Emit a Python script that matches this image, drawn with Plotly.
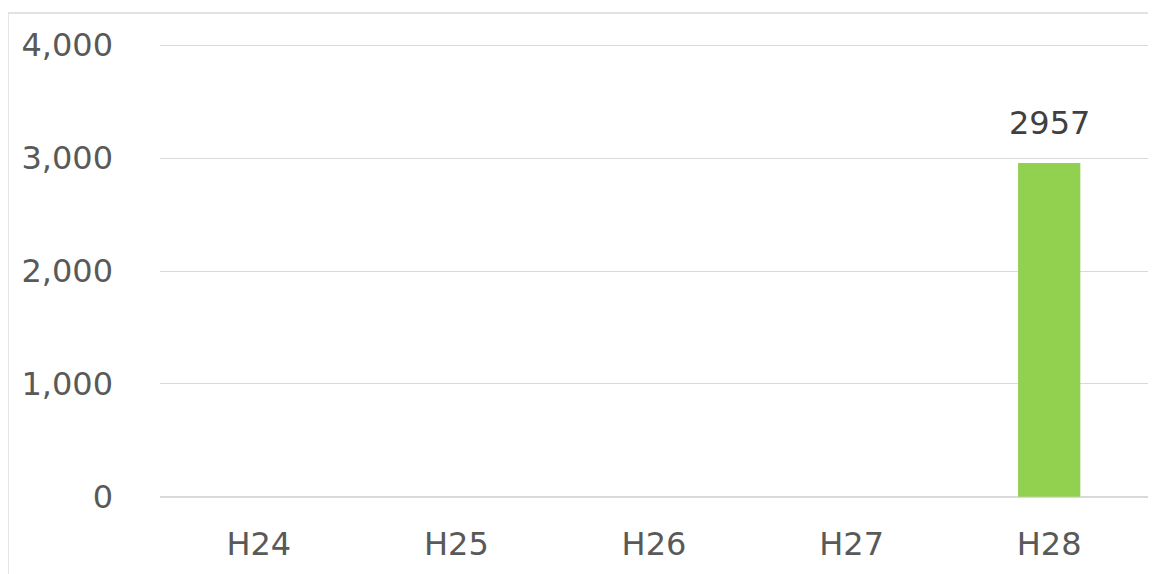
import plotly.graph_objects as go

categories = ["H24", "H25", "H26", "H27", "H28"]
values = [None, None, None, None, 2957]
y_ticks = [0, 1000, 2000, 3000, 4000]
y_tick_labels = ["0", "1,000", "2,000", "3,000", "4,000"]

# the page body has an 8px margin, so the figure is 8px smaller than the window
W, H = 1148, 566
ml, mr, mt, mb = 152, 8, 35, 75
pw, ph = W - ml - mr, H - mt - mb

FONT = "Verdana, DejaVu Sans"

fig = go.Figure()
fig.add_trace(go.Bar(
    x=categories, y=values,
    marker=dict(color="#92D050", line=dict(width=0)),
    width=0.315,
    hoverinfo="x+y",
))

for c, v in zip(categories, values):
    if v is not None:
        fig.add_annotation(x=c, y=v, text=str(v), showarrow=False,
                           yanchor="bottom", yshift=19,
                           font=dict(family=FONT, size=32, color="#404040"))

# outer chart-area border (left and top edges visible)
bx0 = (0 - ml) / pw
bx1 = (W + 10 - ml) / pw
by1 = (H - mb - 5) / ph
by0 = (H - mb - (H + 10)) / ph
fig.add_shape(type="rect", xref="paper", yref="paper",
              x0=bx0, x1=bx1, y0=by0, y1=by1,
              line=dict(color="#D9D9D9", width=1.3), layer="below")

fig.update_layout(
    width=W, height=H,
    margin=dict(l=ml, r=mr, t=mt, b=mb),
    paper_bgcolor="white", plot_bgcolor="white",
    showlegend=False,
    font=dict(family=FONT, size=32, color="#595959"),
    xaxis=dict(
        type="category", categoryorder="array", categoryarray=categories,
        showgrid=False, showline=False, zeroline=False,
        ticks="", ticklabelstandoff=23,
        tickfont=dict(family=FONT, size=32, color="#595959"),
        range=[-0.5, 4.5],
    ),
    yaxis=dict(
        range=[-20, 4020], tickvals=y_ticks, ticktext=y_tick_labels,
        showgrid=True, gridcolor="#D9D9D9", gridwidth=1.3,
        zeroline=True, zerolinecolor="#D9D9D9", zerolinewidth=2,
        showline=False, ticks="", ticklabelstandoff=46,
        tickfont=dict(family=FONT, size=32, color="#595959"),
    ),
)

fig.write_html("out.html")
